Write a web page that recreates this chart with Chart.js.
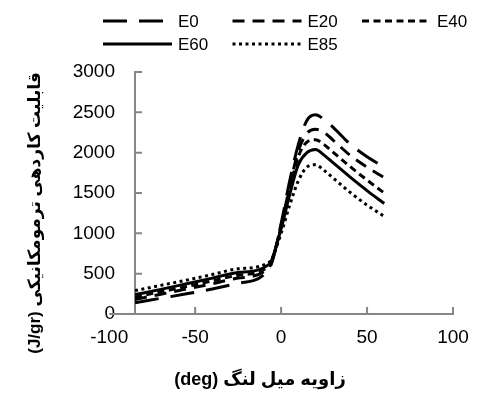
<!DOCTYPE html>
<html>
<head>
<meta charset="utf-8">
<script src="https://cdn.jsdelivr.net/npm/chart.js@4"></script>
<style>
  html, body { margin: 0; padding: 0; background: #fff; }
  #wrap { width: 483px; height: 394px; }
</style>
</head>
<body>
<div id="wrap"><canvas id="chart"></canvas></div>
<script>
// crank angle (deg) and thermo-mechanical availability (J/gr) per blend
const angles = [-85, -70, -55, -40, -25, -7, 0, 5, 10, 15, 20, 25, 30, 40, 50, 60];
const e0  = [140, 195, 250, 310, 380, 560, 1120, 1650, 2100, 2400, 2470, 2410, 2320, 2110, 1950, 1820];
const e20 = [180, 245, 310, 375, 445, 580, 1100, 1580, 2020, 2240, 2290, 2250, 2160, 1970, 1820, 1690];
const e40 = [210, 275, 340, 410, 480, 600, 1080, 1540, 1950, 2130, 2160, 2100, 2010, 1830, 1660, 1500];
const e60 = [240, 305, 375, 445, 515, 615, 1060, 1480, 1850, 2000, 2040, 1970, 1880, 1700, 1530, 1370];
const e85 = [290, 355, 420, 490, 560, 640, 1000, 1350, 1650, 1820, 1850, 1780, 1690, 1510, 1350, 1210];

const seriesNames = ['E0', 'E20', 'E40', 'E60', 'E85'];
const seriesValues = [e0, e20, e40, e60, e85];
const seriesDash = [[24, 12], [12, 8], [7, 4.5], [], [3, 3.5]];

const xTicks = [-100, -50, 0, 50, 100];
const yTicks = [0, 500, 1000, 1500, 2000, 2500, 3000];

const xTitle = '\u202Bزاویه میل لنگ (deg)\u202C';
const yTitle = '\u202Bقابلیت کاردهی ترمومکانیکی (J/gr)\u202C';

const AXIS = '#868686';
const FONT = 'Arial, "Liberation Sans", "DejaVu Sans", sans-serif';

// x axis runs on past the y axis to -100, with Excel-style inside tick marks
const axisMarks = {
  id: 'axisMarks',
  beforeDatasetsDraw(chart) {
    const { ctx, chartArea, scales: { x, y } } = chart;
    ctx.save();
    ctx.strokeStyle = AXIS;
    ctx.lineWidth = 2;
    ctx.beginPath();
    ctx.moveTo(x.getPixelForValue(xTicks[0]), chartArea.bottom);
    ctx.lineTo(chartArea.left, chartArea.bottom);
    y.ticks.forEach(t => {
      if (t.value <= y.min) return;
      const py = y.getPixelForValue(t.value);
      ctx.moveTo(chartArea.left, py);
      ctx.lineTo(chartArea.left + 7, py);
    });
    x.ticks.forEach(t => {
      if (t.value <= x.min) return;
      const px = x.getPixelForValue(t.value);
      ctx.moveTo(px, chartArea.bottom);
      ctx.lineTo(px, chartArea.bottom - 7);
    });
    ctx.stroke();
    ctx.restore();
  }
};

// axis titles sit off-centre, so they are placed by hand
const axisTitles = {
  id: 'axisTitles',
  afterDraw(chart) {
    const ctx = chart.ctx;
    ctx.save();
    ctx.fillStyle = '#000';
    ctx.textAlign = 'center';
    ctx.textBaseline = 'middle';
    ctx.font = 'bold 18px ' + FONT;
    ctx.fillText(xTitle, 260, 380);
    ctx.translate(35, 213);
    ctx.rotate(-Math.PI / 2);
    ctx.font = 'bold 17px ' + FONT;
    ctx.fillText(yTitle, 0, 0);
    ctx.restore();
  }
};

// two-row legend laid out in fixed columns
const lineLegend = {
  id: 'lineLegend',
  afterDraw(chart) {
    const ctx = chart.ctx;
    ctx.save();
    ctx.font = '17px ' + FONT;
    ctx.textBaseline = 'middle';
    ctx.fillStyle = '#000';
    chart.data.datasets.forEach((ds, i) => {
      const x = 103 + (i % 3) * 129.5;
      const y = 21 + Math.floor(i / 3) * 23;
      ctx.beginPath();
      ctx.setLineDash(ds.borderDash);
      ctx.lineWidth = ds.borderWidth;
      ctx.strokeStyle = ds.borderColor;
      ctx.moveTo(x, y);
      ctx.lineTo(x + 69, y);
      ctx.stroke();
      ctx.fillText(ds.label, x + 75, y + 1);
    });
    ctx.restore();
  }
};

const datasets = seriesNames.map((name, i) => ({
  label: name,
  data: angles.map((a, j) => ({ x: a, y: seriesValues[i][j] })),
  borderColor: '#000',
  borderWidth: 3,
  borderDash: seriesDash[i],
  pointRadius: 0,
  fill: false,
  cubicInterpolationMode: 'monotone',
}));

new Chart(document.getElementById('chart'), {
  type: 'line',
  data: { datasets },
  plugins: [axisMarks, axisTitles, lineLegend],
  options: {
    responsive: true,
    maintainAspectRatio: false,
    animation: false,
    layout: { padding: { top: 72, right: 30, left: 0, bottom: 0 } },
    plugins: { legend: { display: false }, tooltip: { enabled: false } },
    scales: {
      x: {
        type: 'linear',
        min: -85,
        max: 100,
        afterBuildTicks: s => { s.ticks = xTicks.map(v => ({ value: v })); },
        afterFit: s => { s.height = 80; },
        grid: { display: false, drawTicks: false },
        border: { display: true, color: AXIS, width: 2 },
        ticks: {
          color: '#000', padding: 12, autoSkip: false, maxRotation: 0,
          font: { family: FONT, size: 19 },
          callback: v => String(v),
        },
        title: { display: false },
      },
      y: {
        min: 0,
        max: 3000,
        afterBuildTicks: s => { s.ticks = yTicks.map(v => ({ value: v })); },
        afterFit: s => { s.width = 135; },
        grid: { display: false, drawTicks: false },
        border: { display: true, color: AXIS, width: 2 },
        ticks: {
          color: '#000', padding: 20,
          font: { family: FONT, size: 19 },
          callback: v => String(v),
        },
        title: { display: false },
      },
    },
  },
});
</script>
</body>
</html>
